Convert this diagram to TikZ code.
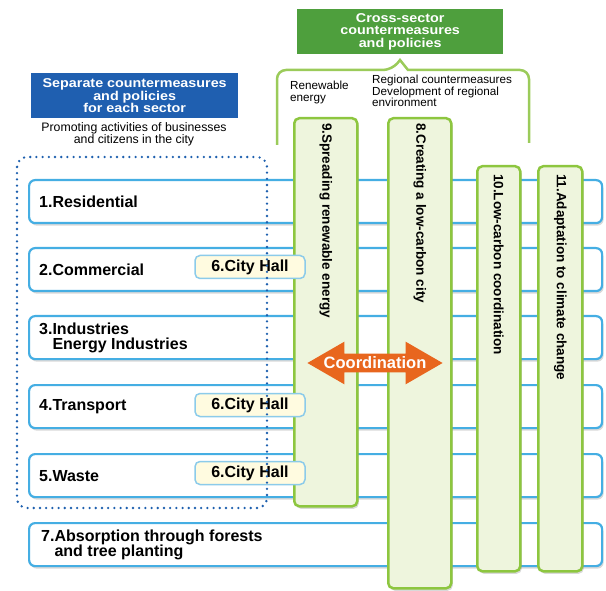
\documentclass[tikz,border=0pt]{standalone}
\usepackage{fontspec}
\setmainfont{Liberation Sans}
\newfontfamily\widefont{Liberation Sans}[FakeStretch=1.12]
\usetikzlibrary{shadows,shapes.arrows}
\definecolor{rowblue}{HTML}{45AEE3}
\definecolor{dotblue}{HTML}{1D5FAE}
\definecolor{headblue}{HTML}{1F5FB0}
\definecolor{headgreen}{HTML}{4E9F3D}
\definecolor{colgreen}{HTML}{8DC63F}
\definecolor{colfill}{HTML}{EEF5DD}
\definecolor{bracegreen}{HTML}{9BCB5A}
\definecolor{hallfill}{HTML}{FFFBE0}
\definecolor{hallline}{HTML}{8CCBEA}
\definecolor{coordorange}{HTML}{E8661E}
\begin{document}
\begin{tikzpicture}[x=1pt,y=-1pt]
\tikzstyle{every node}+=[inner sep=0pt]
\tikzstyle{shade}=[drop shadow={shadow xshift=1.5pt,shadow yshift=-2.5pt,opacity=0.3}]
\tikzstyle{row}=[draw=rowblue,line width=2.2pt,fill=white,rounded corners=6pt,shade,
  minimum width=573pt,minimum height=43pt,anchor=north west]
\tikzstyle{rowlabel}=[anchor=west,align=left,font=\bfseries\fontsize{16}{15}\selectfont]
\tikzstyle{col}=[draw=colgreen,line width=2.5pt,fill=colfill,rounded corners=5pt,shade,anchor=north west]
\tikzstyle{coltext}=[rotate=-90,anchor=west,font=\bfseries\fontsize{13.5}{14}\selectfont]
\tikzstyle{hall}=[draw=hallline,line width=1.5pt,fill=hallfill,rounded corners=5pt,
  minimum width=110pt,minimum height=23pt,font=\bfseries\fontsize{16}{16}\selectfont]
\tikzstyle{header}=[text=white,align=center,font=\widefont\bfseries\fontsize{12.8}{12.6}\selectfont]
\tikzstyle{note}=[align=left,font=\fontsize{11.7}{11.5}\selectfont]
\useasboundingbox (0,0) rectangle (606,591);
\node[header,fill=headblue,minimum width=207pt,minimum height=45pt,anchor=north west] (sep) at (31,73)
  {Separate countermeasures\\and policies\\for each sector};
\node[align=center,font=\fontsize{12.3}{12}\selectfont] (prom) at (134,134)
  {Promoting activities of businesses\\and citizens in the city};
\node[header,fill=headgreen,minimum width=206pt,minimum height=45pt,anchor=north west] (cross) at (297,9)
  {Cross-sector\\countermeasures\\and policies};
\draw[bracegreen,line width=2.5pt,rounded corners=9pt] (277,145) -- (277,70) -- (392,70) [sharp corners]
  -- (400,60) -- (408,70) [rounded corners=9pt] -- (529,70) -- (529,143);
\node[note,anchor=north west] (renew) at (290,81) {Renewable\\energy};
\node[note,anchor=north west] (regio) at (372,75) {Regional countermeasures\\Development of regional\\environment};
\node[row] (r1) at (28,179) {};
\node[row] (r2) at (28,247) {};
\node[row] (r3) at (28,315) {};
\node[row] (r4) at (28,384) {};
\node[row] (r5) at (28,453) {};
\node[row] (r7) at (28,522) {};
\node[rowlabel] (l1) at ([xshift=11pt]r1.west) {1.Residential};
\node[rowlabel] (l2) at ([xshift=11pt]r2.west) {2.Commercial};
\node[rowlabel] (l3) at ([xshift=11pt]r3.west) {3.Industries\\\phantom{3.}Energy Industries};
\node[rowlabel] (l4) at ([xshift=11pt]r4.west) {4.Transport};
\node[rowlabel] (l5) at ([xshift=11pt]r5.west) {5.Waste};
\node[rowlabel] (l7) at ([xshift=13pt]r7.west) {7.Absorption through forests\\\phantom{7.}and tree planting};
\node[col,minimum width=63pt,minimum height=388pt] (c9) at (293,117) {};
\node[col,minimum width=63pt,minimum height=470pt] (c8) at (387,117) {};
\node[col,minimum width=43pt,minimum height=405pt] (c10) at (476,165) {};
\node[col,minimum width=44pt,minimum height=405pt] (c11) at (537,165) {};
\node[coltext] (t9) at ([yshift=-6pt]c9.north) {9.Spreading renewable energy};
\node[coltext] (t8) at ([yshift=-6pt]c8.north) {8.Creating a low-carbon city};
\node[coltext] (t10) at ([yshift=-9pt]c10.north) {10.Low-carbon coordination};
\node[coltext] (t11) at ([yshift=-9pt]c11.north) {11.Adaptation to climate change};
\node[double arrow,fill=coordorange,text=white,minimum height=132pt,double arrow head extend=12pt,
  double arrow tip angle=60,inner ysep=3pt,font=\bfseries\fontsize{16.5}{16}\selectfont] (coord) at (375,363) {Coordination};
\node[hall] (h2) at (250,267) {6.City Hall};
\node[hall] (h4) at (250,405) {6.City Hall};
\node[hall] (h5) at (250,473) {6.City Hall};
\draw[dotblue,line width=2.6pt,line cap=round,dash pattern=on 0pt off 6.2pt,rounded corners=10pt]
  (17,157) rectangle (267,508);
\end{tikzpicture}
\end{document}
